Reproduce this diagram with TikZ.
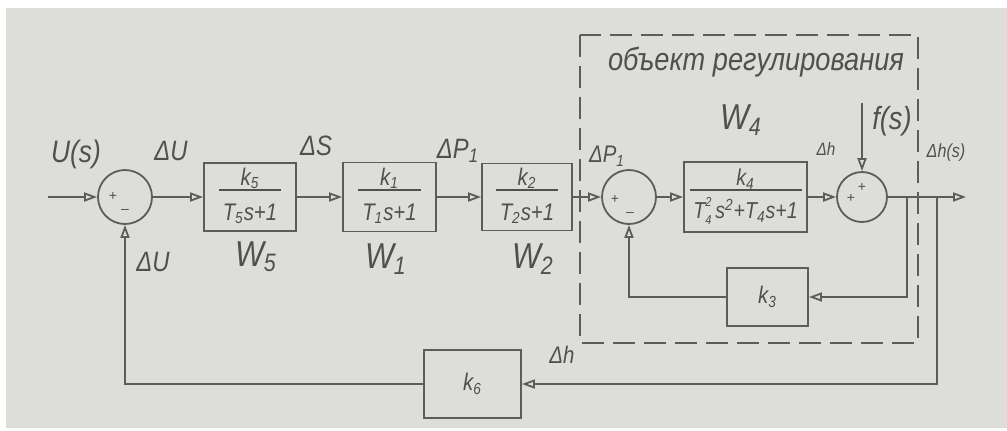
\documentclass[tikz,border=0pt]{standalone}
\usepackage{fontspec}
\setmainfont{Liberation Sans}
\newfontfamily\hf[FakeStretch=0.85]{Liberation Sans}
\usetikzlibrary{arrows.meta}
\definecolor{bg}{RGB}{221,221,217}
\definecolor{lc}{RGB}{92,92,92}
\definecolor{tc}{RGB}{80,80,80}
\newcommand\sbs[1]{\textsubscript{#1}}
\newcommand\subsup[2]{\rlap{\raisebox{1.05ex}{\fontsize{6.5}{7}\selectfont #2}}\raisebox{-0.45ex}{\fontsize{6.5}{7}\selectfont #1}}
\newcommand\fr[2]{\setlength\arrayrulewidth{0.8pt}\begin{tabular}{@{\,}c@{\,}}#1\\[-2pt]\hline\rule{0pt}{2.3ex}#2\end{tabular}}
\tikzset{
  ln/.style={draw=lc, line width=0.9pt},
  arr/.style={ln, -{Triangle[open, length=6.5pt, width=4.5pt]}},
  blk/.style={draw=lc, line width=0.9pt, inner sep=0pt, text=tc,
    font=\hf\itshape\fontsize{12}{14}\selectfont},
  sumn/.style={circle, draw=lc, line width=0.9pt, inner sep=0pt},
  lbl/.style={text=tc, inner sep=0pt, font=\hf\itshape},
  sgn/.style={text=tc, inner sep=0pt, font=\fontsize{7}{8}\selectfont},
  frame/.style={draw=lc, line width=0.8pt, dash pattern=on 11pt off 4.5pt}
}
\begin{document}
\begin{tikzpicture}[x=0.5pt, y=-0.5pt]
\useasboundingbox (0,0) rectangle (1007,430);
\fill[white] (0,0) rectangle (1007,430);
\fill[bg] (6,8) rectangle (1007,428);

% object frame
\draw[frame] (580,35) rectangle (918,343);
\node[lbl, font=\hf\itshape\fontsize{16}{18}\selectfont] (title) at (756,62) {объект регулирования};

% summing junctions
\node[sumn, minimum size=27pt] (s1) at (125,197) {};
\node[sumn, minimum size=27pt] (s2) at (629,197) {};
\node[sumn, minimum size=25pt] (s3) at (862,197) {};
\node[sgn] (s1p) at (113,196) {+};
\node[sgn] (s1m) at (125,211) {--};
\node[sgn] (s2p) at (615,199) {+};
\node[sgn] (s2m) at (630,214) {--};
\node[sgn] (s3a) at (862,187) {+};
\node[sgn] (s3b) at (851,198) {+};

% blocks
\node[blk, minimum width=46pt, minimum height=34pt] (w5) at (250,197) {\fr{k\sbs{5}}{T\sbs{5}s+1}};
\node[blk, minimum width=46.5pt, minimum height=34.5pt] (w1) at (389.5,197) {\fr{k\sbs{1}}{T\sbs{1}s+1}};
\node[blk, minimum width=45pt, minimum height=33.5pt] (w2) at (527,197) {\fr{k\sbs{2}}{T\sbs{2}s+1}};
\node[blk, minimum width=61.5pt, minimum height=35pt, font=\hf\itshape\fontsize{11.5}{13}\selectfont] (w4) at (745.5,197) {\fr{k\sbs{4}}{T\subsup{4}{2}\,s\textsuperscript{2}+T\sbs{4}s+1}};
\node[blk, minimum width=40.5pt, minimum height=29pt] (k3) at (767.5,297) {k\sbs{3}};
\node[blk, minimum width=48.5pt, minimum height=34pt] (k6) at (472.5,384) {k\sbs{6}};

% connector points
\coordinate (in) at (48,197);
\coordinate (out) at (966,197);
\coordinate (fs) at (862,103);
\coordinate (j3) at (907,197);
\coordinate (j6) at (937,197);

% forward path
\draw[arr] (in) -- (s1.west);
\draw[arr] (s1.east) -- (w5.west);
\draw[arr] (w5.east) -- (w1.west);
\draw[arr] (w1.east) -- (w2.west);
\draw[arr] (w2.east) -- (s2.west);
\draw[arr] (s2.east) -- (w4.west);
\draw[arr] (w4.east) -- (s3.west);
\draw[arr] (s3.east) -- (out);
\draw[arr] (fs) -- (s3.north);

% feedback loops
\draw[arr] (j3) |- (k3.east);
\draw[arr] (k3.west) -| (s2.south);
\draw[arr] (j6) |- (k6.east);
\draw[arr] (k6.west) -| (s1.south);

% labels
\node[lbl, font=\hf\itshape\fontsize{15.5}{17}\selectfont] (lu) at (76,154) {U(s)};
\node[lbl, font=\hf\itshape\fontsize{14}{16}\selectfont] (ldu) at (171,151) {ΔU};
\node[lbl, font=\hf\itshape\fontsize{14}{16}\selectfont] (lds) at (316,146) {ΔS};
\node[lbl, font=\hf\itshape\fontsize{14}{16}\selectfont] (ldp1) at (458,151) {ΔP\sbs{1}};
\node[lbl, font=\hf\itshape\fontsize{12}{14}\selectfont] (ldp2) at (607,156) {ΔP\sbs{1}};
\node[lbl, font=\hf\itshape\fontsize{18}{20}\selectfont] (lw5) at (256,257) {W\sbs{5}};
\node[lbl, font=\hf\itshape\fontsize{18}{20}\selectfont] (lw1) at (386,259) {W\sbs{1}};
\node[lbl, font=\hf\itshape\fontsize{18}{20}\selectfont] (lw2) at (533,259) {W\sbs{2}};
\node[lbl, font=\hf\itshape\fontsize{18}{20}\selectfont] (lw4) at (741,120) {W\sbs{4}};
\node[lbl, font=\hf\itshape\fontsize{14}{16}\selectfont] (ldu2) at (153,262) {ΔU};
\node[lbl, font=\hf\itshape\fontsize{9}{10}\selectfont] (ldh) at (826,149) {Δh};
\node[lbl, font=\hf\itshape\fontsize{16}{18}\selectfont] (lf) at (892,121) {f(s)};
\node[lbl, font=\hf\itshape\fontsize{9.5}{11}\selectfont] (ldhs) at (946,153) {Δh(s)};
\node[lbl, font=\hf\itshape\fontsize{12}{14}\selectfont] (ldh2) at (562,355) {Δh};
\end{tikzpicture}
\end{document}
